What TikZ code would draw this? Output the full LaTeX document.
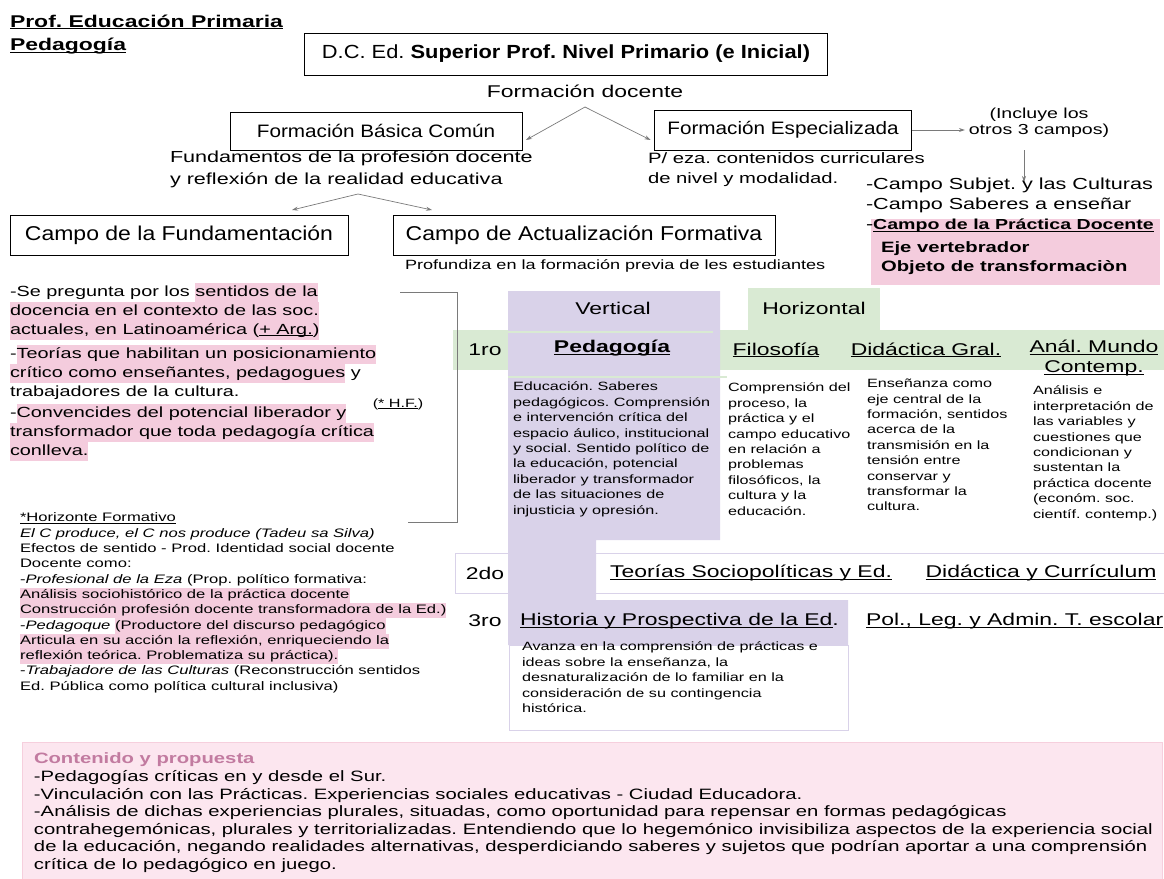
\documentclass[tikz,border=0pt]{standalone}
\usepackage{fontspec}
\setmainfont[FakeStretch=1.35]{Liberation Sans}
\newfontfamily\cajafont[FakeStretch=1.15]{Liberation Sans}
\usetikzlibrary{arrows.meta}
\definecolor{hlpink}{HTML}{F4CCDD}
\definecolor{lila}{HTML}{D9D2E9}
\definecolor{verde}{HTML}{D9EAD3}
\definecolor{rosa}{HTML}{FCE6EF}
\definecolor{rosaborde}{HTML}{F6CFDD}
\definecolor{rosatit}{HTML}{C27BA0}
\definecolor{flecha}{HTML}{7A7A7A}
\newcommand{\hlp}[1]{{\setlength{\fboxsep}{0pt}\colorbox{hlpink}{\strut #1}}}
\newcommand{\subr}[1]{{\setbox0\hbox{#1}\rlap{\rule[-0.14em]{\wd0}{0.065em}}\box0}}
\frenchspacing
\begin{document}
\begin{tikzpicture}[x=1pt,y=1pt,yscale=-1,inner sep=0pt,outer sep=0pt,
  caja/.style={draw=black,line width=0.9pt,font=\cajafont\fontsize{18}{21}\selectfont},
  conn/.style={draw=flecha,line width=0.7pt,-{Stealth[length=6pt,width=4pt]}},
  big/.style={font=\fontsize{17}{21}\selectfont},
  small/.style={font=\fontsize{12}{15.4}\selectfont,align=left,anchor=north west}]
\useasboundingbox (0,0) rectangle (1164,878);

% tabla: fondos
\path[fill=verde] (453,330) rectangle (1164,370);
\path[fill=verde] (748,288) rectangle (880,330);
\path[fill=lila] (508,291) -- (720,291) -- (720,540) -- (596,540) -- (596,600)
  -- (848,600) -- (848,645) -- (508,645) -- cycle;
\path[draw=verde,line width=1.5pt] (508,332) -- (713,332);
\path[draw=verde,line width=1.5pt] (508,377) -- (727,377);
\path[draw=lila,line width=1pt] (455,553) rectangle (1164,593);
\path[draw=lila,line width=1pt] (509,645) rectangle (848,730);
\path[fill=rosa,draw=rosaborde,line width=1pt] (22,742) rectangle (1162,890);
\path[fill=hlpink] (871,219) rectangle (1160,285);

% encabezado
\path (10,22) node[right,font=\fontsize{17}{21}\selectfont\bfseries] (text-prof) {\subr{Prof. Educación Primaria}};
\path (10,46) node[right,font=\fontsize{17}{21}\selectfont\bfseries] (text-ped) {\subr{Pedagogía}};
\path (566,54) node[caja,minimum width=523,minimum height=42,font=\cajafont\fontsize{19}{22}\selectfont] (box-dc)
  {D.C. Ed. \textbf{Superior Prof. Nivel Primario (e Inicial)}};
\path (585,91) node[big] (text-fdoc) {Formación docente};
\coordinate (fdoc-apex) at (585,107);
\path (376,131) node[caja,minimum width=292,minimum height=38] (box-fbc) {Formación Básica Común};
\path (783,130) node[caja,minimum width=257,minimum height=40] (box-fe) {Formación Especializada};
\path (1039,123) node[font=\fontsize{14.5}{16}\selectfont,align=center] (text-incluye) {(Incluye los\\otros 3 campos)};
\coordinate (campos-top) at (1024,182);
\draw[conn] (fdoc-apex) -- ([shift={(4,9)}]box-fbc.east);
\draw[conn] (fdoc-apex) -- ([shift={(-4,10)}]box-fe.west);
\draw[conn] (box-fe.east) -- ([xshift=-4]box-fe.east -| text-incluye.west);
\draw[conn] (1024,150) -- (campos-top);

\path (170,169) node[right,font=\fontsize{16}{22}\selectfont,align=left] (text-fund) {Fundamentos de la profesión docente\\y reflexión de la realidad educativa};
\path (648,170) node[right,font=\fontsize{15}{20}\selectfont,align=left] (text-peza) {P/ eza. contenidos curriculares\\de nivel y modalidad.};
\coordinate (fund-apex) at (358,194);
\path (179,235) node[caja,minimum width=338,minimum height=40,font=\cajafont\fontsize{20}{22}\selectfont] (box-cf) {Campo de la Fundamentación};
\path (584,235) node[caja,minimum width=382,minimum height=40,font=\cajafont\fontsize{20}{22}\selectfont] (box-ca) {Campo de Actualización Formativa};
\draw[conn] (fund-apex) -- ([shift={(-56,-5)}]box-cf.north east);
\draw[conn] (fund-apex) -- ([shift={(39,-5)}]box-ca.north west);
\path (405,266) node[right,font=\fontsize{13.4}{16}\selectfont] (text-prof2) {Profundiza en la formación previa de les estudiantes};

% otros campos
\path (866,178) node[anchor=north west,align=left,font=\fontsize{16}{20}\selectfont] (text-campos)
  {-Campo Subjet. y las Culturas\\-Campo Saberes a enseñar\\-{\fontsize{14.5}{20}\selectfont\bfseries\subr{Campo de la Práctica Docente}}};
\path (881,242) node[anchor=north west,align=left,font=\fontsize{15}{19}\selectfont\bfseries] (text-eje)
  {Eje vertebrador\\Objeto de transformaciòn};

% columna izquierda
\path (10,283) node[anchor=north west,align=left,font=\fontsize{14.7}{19}\selectfont] (text-sentidos)
  {-Se pregunta por los \hlp{sentidos de la}\\\hlp{docencia en el contexto de las soc.}\\\hlp{actuales, en Latinoamérica (\subr{+ Arg.})}};
\path (10,345) node[anchor=north west,align=left,font=\fontsize{14.7}{19}\selectfont] (text-teorias)
  {-\hlp{Teorías que habilitan un posicionamiento}\\\hlp{crítico como enseñantes, pedagogues} y\\trabajadores de la cultura.};
\path (10,404) node[anchor=north west,align=left,font=\fontsize{14.7}{19}\selectfont] (text-conv)
  {-\hlp{Convencides del potencial liberador y}\\\hlp{transformador que toda pedagogía crítica}\\\hlp{conlleva.}};
\path (398,404) node[font=\fontsize{12}{14}\selectfont] (text-hf) {(\subr{* H.F.})};
\path[draw=flecha,line width=0.8pt] (400,292) -- (457,292) -- (457,522) -- (408,522);

\path (20,513) node[small,font=\fontsize{12.3}{15.3}\selectfont] (text-horiz)
  {\subr{*Horizonte Formativo}\\
   \textit{El C produce, el C nos produce (Tadeu sa Silva)}\\
   Efectos de sentido - Prod. Identidad social docente\\
   Docente como:\\
   -\textit{Profesional de la Eza} (Prop. político formativa:\\
   \hlp{Análisis sociohistórico de la práctica docente}\\
   \hlp{Construcción profesión docente transformadora de la Ed.)}\\
   -\textit{Pedagoque} \hlp{(Productore del discurso pedagógico}\\
   \hlp{Articula en su acción la reflexión, enriqueciendo la}\\
   \hlp{reflexión teórica. Problematiza su práctica).}\\
   -\textit{Trabajadore de las Culturas} (Reconstrucción sentidos\\
   Ed. Pública como política cultural inclusiva)};

% tabla: textos
\path (613,308) node[big] (text-vert) {Vertical};
\path (814,308) node[big] (text-hor) {Horizontal};
\path (485,350) node[big] (text-1ro) {1ro};
\path (612,348) node[big,font=\fontsize{17}{21}\selectfont\bfseries] (text-pedag) {\subr{Pedagogía}};
\path (776,350) node[big] (text-filo) {\subr{Filosofía}};
\path (926,350) node[big] (text-didg) {\subr{Didáctica Gral.}};
\path (1094,358) node[big,align=center,font=\fontsize{17}{20}\selectfont] (text-anal) {\subr{Anál. Mundo}\\\subr{Contemp.}};

\path (513,382) node[small] (text-d-ped) {Educación. Saberes\\pedagógicos. Comprensión\\e intervención crítica del\\espacio áulico, institucional\\y social. Sentido político de\\la educación, potencial\\liberador y transformador\\de las situaciones de\\injusticia y opresión.};
\path (728,383) node[small] (text-d-filo) {Comprensión del\\proceso, la\\práctica y el\\campo educativo\\en relación a\\problemas\\filosóficos, la\\cultura y la\\educación.};
\path (867,379) node[small] (text-d-did) {Enseñanza como\\eje central de la\\formación, sentidos\\acerca de la\\transmisión en la\\tensión entre\\conservar y\\transformar la\\cultura.};
\path (1033,386) node[small] (text-d-anal) {Análisis e\\interpretación de\\las variables y\\cuestiones que\\condicionan y\\sustentan la\\práctica docente\\(económ. soc.\\científ. contemp.)};

\path (485,573) node[big] (text-2do) {2do};
\path (751,573) node[big] (text-teo) {\subr{Teorías Sociopolíticas y Ed.}};
\path (1041,573) node[big] (text-didc) {\subr{Didáctica y Currículum}};
\path (485,621) node[big] (text-3ro) {3ro};
\path (520,621) node[big,right] (text-hist) {\subr{Historia y Prospectiva de la Ed}.};
\path (866,621) node[big,right] (text-pol) {\subr{Pol., Leg. y Admin. T. escolar}};
\path (522,642) node[small] (text-d-hist) {Avanza en la comprensión de prácticas e\\ideas sobre la enseñanza, la\\desnaturalización de lo familiar en la\\consideración de su contingencia\\histórica.};

% contenido y propuesta
\path (34,753) node[anchor=north west,align=left,font=\fontsize{15}{17.6}\selectfont] (text-cont)
  {{\color{rosatit}\bfseries Contenido y propuesta}\\
   -Pedagogías críticas en y desde el Sur.\\
   -Vinculación con las Prácticas. Experiencias sociales educativas - Ciudad Educadora.\\
   -Análisis de dichas experiencias plurales, situadas, como oportunidad para repensar en formas pedagógicas\\
   contrahegemónicas, plurales y territorializadas. Entendiendo que lo hegemónico invisibiliza aspectos de la experiencia social\\
   de la educación, negando realidades alternativas, desperdiciando saberes y sujetos que podrían aportar a una comprensión\\
   crítica de lo pedagógico en juego.};
\end{tikzpicture}
\end{document}
